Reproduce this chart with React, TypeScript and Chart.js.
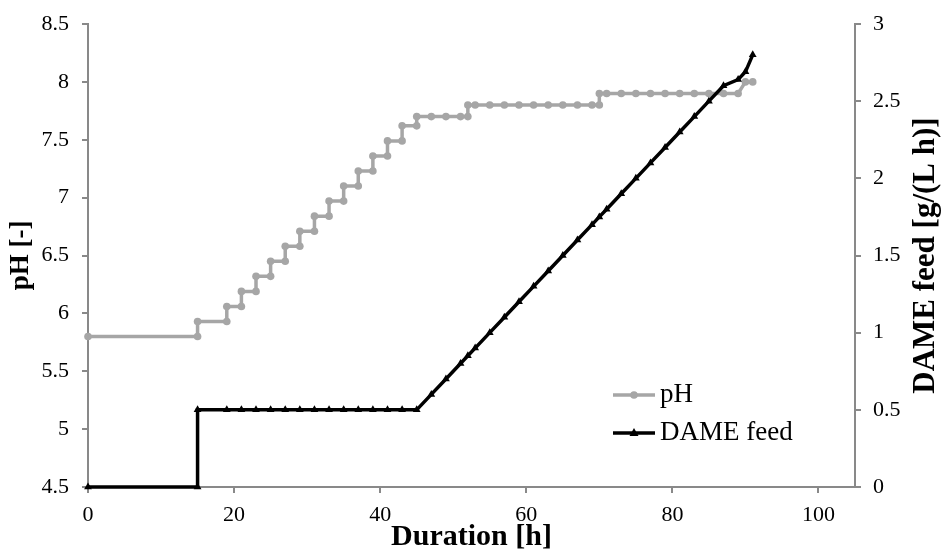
import { useEffect, useRef } from "react";
import { Chart, registerables } from "chart.js";

Chart.register(...registerables);

// pH set-point profile (step-wise), hours vs pH
const phHours = [
  0, 15, 15, 19, 19, 21, 21, 23, 23, 25, 25, 27, 27, 29, 29, 31, 31, 33, 33, 35,
  35, 37, 37, 39, 39, 41, 41, 43, 43, 45, 45, 47, 49, 51, 52, 52, 53, 55, 57, 59,
  61, 63, 65, 67, 69, 70, 70, 71, 73, 75, 77, 79, 81, 83, 85, 87, 89, 90, 91,
];
const phValues = [
  5.8, 5.8, 5.93, 5.93, 6.06, 6.06, 6.19, 6.19, 6.32, 6.32, 6.45, 6.45, 6.58, 6.58,
  6.71, 6.71, 6.84, 6.84, 6.97, 6.97, 7.1, 7.1, 7.23, 7.23, 7.36, 7.36, 7.49, 7.49,
  7.62, 7.62, 7.7, 7.7, 7.7, 7.7, 7.7, 7.8, 7.8, 7.8, 7.8, 7.8, 7.8, 7.8, 7.8, 7.8,
  7.8, 7.8, 7.9, 7.9, 7.9, 7.9, 7.9, 7.9, 7.9, 7.9, 7.9, 7.9, 7.9, 8.0, 8.0,
];

// DAME feed rate, hours vs g/(L h)
const feedHours = [
  0, 15, 15, 19, 21, 23, 25, 27, 29, 31, 33, 35, 37, 39, 41, 43, 45, 47, 49, 51, 52,
  53, 55, 57, 59, 61, 63, 65, 67, 69, 70, 71, 73, 75, 77, 79, 81, 83, 85, 87, 89, 90, 91,
];
const feedValues = [
  0, 0, 0.5, 0.5, 0.5, 0.5, 0.5, 0.5, 0.5, 0.5, 0.5, 0.5, 0.5, 0.5, 0.5, 0.5, 0.5,
  0.6, 0.7, 0.8, 0.85, 0.9, 1.0, 1.1, 1.2, 1.3, 1.4, 1.5, 1.6, 1.7, 1.75, 1.8, 1.9,
  2.0, 2.1, 2.2, 2.3, 2.4, 2.5, 2.6, 2.64, 2.69, 2.8,
];

const xTicks = [0, 20, 40, 60, 80, 100];
const phTicks = [4.5, 5, 5.5, 6, 6.5, 7, 7.5, 8, 8.5];
const feedTicks = [0, 0.5, 1, 1.5, 2, 2.5, 3];

const FONT = "'Liberation Serif', 'Times New Roman', serif";
const AXIS_GRAY = "#898989";
const PH_GRAY = "#a6a6a6";
const FEED_BLACK = "#000000";

const toPoints = (xs: number[], ys: number[]) => xs.map((x, i) => ({ x, y: ys[i] }));

const setTicks = (values: number[]) => (scale: any) => {
  scale.ticks = values.map((value) => ({ value }));
};

// Legend drawn inside the plot, plus the right-hand axis title (reads bottom-to-top)
const overlayPlugin = {
  id: "overlay",
  afterDraw(chart: any) {
    const { ctx, chartArea } = chart;
    ctx.save();

    const items = [
      { label: "pH", color: PH_GRAY, marker: "circle", y: 395 },
      { label: "DAME feed", color: FEED_BLACK, marker: "triangle", y: 433 },
    ];
    const x0 = 613;
    const x1 = 655;
    const mx = (x0 + x1) / 2;
    for (const it of items) {
      ctx.strokeStyle = it.color;
      ctx.fillStyle = it.color;
      ctx.lineWidth = 3.5;
      ctx.beginPath();
      ctx.moveTo(x0, it.y);
      ctx.lineTo(x1, it.y);
      ctx.stroke();
      ctx.beginPath();
      if (it.marker === "circle") {
        ctx.arc(mx, it.y, 3.8, 0, Math.PI * 2);
      } else {
        const r = 5;
        ctx.moveTo(mx, it.y - r);
        ctx.lineTo(mx + r * 0.9, it.y + r * 0.6);
        ctx.lineTo(mx - r * 0.9, it.y + r * 0.6);
        ctx.closePath();
      }
      ctx.fill();
      ctx.fillStyle = "#000";
      ctx.font = `27px ${FONT}`;
      ctx.textAlign = "left";
      ctx.textBaseline = "middle";
      ctx.fillText(it.label, x1 + 5, it.y);
    }

    ctx.translate(926, (chartArea.top + chartArea.bottom) / 2);
    ctx.rotate(-Math.PI / 2);
    ctx.font = `bold 31px ${FONT}`;
    ctx.textAlign = "center";
    ctx.textBaseline = "middle";
    ctx.fillStyle = "#000";
    ctx.fillText("DAME feed [g/(L h)]", 0, 0);
    ctx.restore();
  },
};

export default function App() {
  const canvasRef = useRef<HTMLCanvasElement | null>(null);

  useEffect(() => {
    const canvas = canvasRef.current;
    if (!canvas) return;

    const tickFont = { family: FONT, size: 22 };
    const axisGrid = {
      display: true,
      drawOnChartArea: false,
      drawTicks: true,
      tickLength: 6,
      color: AXIS_GRAY,
      lineWidth: 2,
    };
    const axisBorder = { display: true, color: AXIS_GRAY, width: 2 };

    const chart = new Chart(canvas, {
      type: "scatter",
      data: {
        datasets: [
          {
            label: "DAME feed",
            data: toPoints(feedHours, feedValues),
            yAxisID: "y1",
            showLine: true,
            clip: false,
            borderColor: FEED_BLACK,
            backgroundColor: FEED_BLACK,
            borderWidth: 3.5,
            pointStyle: "triangle",
            pointRadius: 4.5,
            pointBorderWidth: 0,
            tension: 0,
          },
          {
            label: "pH",
            data: toPoints(phHours, phValues),
            yAxisID: "y",
            showLine: true,
            clip: false,
            borderColor: PH_GRAY,
            backgroundColor: PH_GRAY,
            borderWidth: 3.5,
            pointStyle: "circle",
            pointRadius: 3.8,
            pointBorderWidth: 0,
            tension: 0,
          },
        ],
      },
      options: {
        animation: false,
        responsive: false,
        maintainAspectRatio: false,
        layout: { padding: { top: 24, left: 0, right: 0, bottom: 0 } },
        plugins: {
          legend: { display: false },
          tooltip: { enabled: false },
        },
        scales: {
          x: {
            type: "linear",
            min: 0,
            max: 105,
            afterBuildTicks: setTicks(xTicks),
            grid: axisGrid,
            border: axisBorder,
            ticks: { font: tickFont, color: "#000", padding: 9, maxRotation: 0 },
            title: {
              display: true,
              text: "Duration [h]",
              font: { family: FONT, size: 30, weight: "bold" },
              color: "#000",
              padding: { top: 0, bottom: 3 },
            },
            afterFit: (s: any) => {
              s.height = 71;
              s.paddingLeft = 0;
              s.paddingRight = 0;
            },
          },
          y: {
            type: "linear",
            position: "left",
            min: 4.5,
            max: 8.5,
            afterBuildTicks: setTicks(phTicks),
            grid: axisGrid,
            border: axisBorder,
            ticks: {
              font: tickFont,
              color: "#000",
              padding: 13,
              callback: (v: any) => String(v),
            },
            title: {
              display: true,
              text: "pH [-]",
              font: { family: FONT, size: 27, weight: "bold" },
              color: "#000",
              padding: { top: 5, bottom: 0 },
            },
            afterFit: (s: any) => {
              s.width = 88;
              s.paddingTop = 0;
              s.paddingBottom = 0;
            },
          },
          y1: {
            type: "linear",
            position: "right",
            min: 0,
            max: 3,
            afterBuildTicks: setTicks(feedTicks),
            grid: axisGrid,
            border: axisBorder,
            ticks: {
              font: tickFont,
              color: "#000",
              padding: 12,
              callback: (v: any) => String(v),
            },
            afterFit: (s: any) => {
              s.width = 89;
              s.paddingTop = 0;
              s.paddingBottom = 0;
            },
          },
        },
      },
      plugins: [overlayPlugin],
    });

    return () => chart.destroy();
  }, []);

  return (
    <div style={{ position: "fixed", left: 0, top: 0, width: 944, height: 558, background: "#fff" }}>
      <canvas ref={canvasRef} width={944} height={558} style={{ display: "block" }} />
    </div>
  );
}
